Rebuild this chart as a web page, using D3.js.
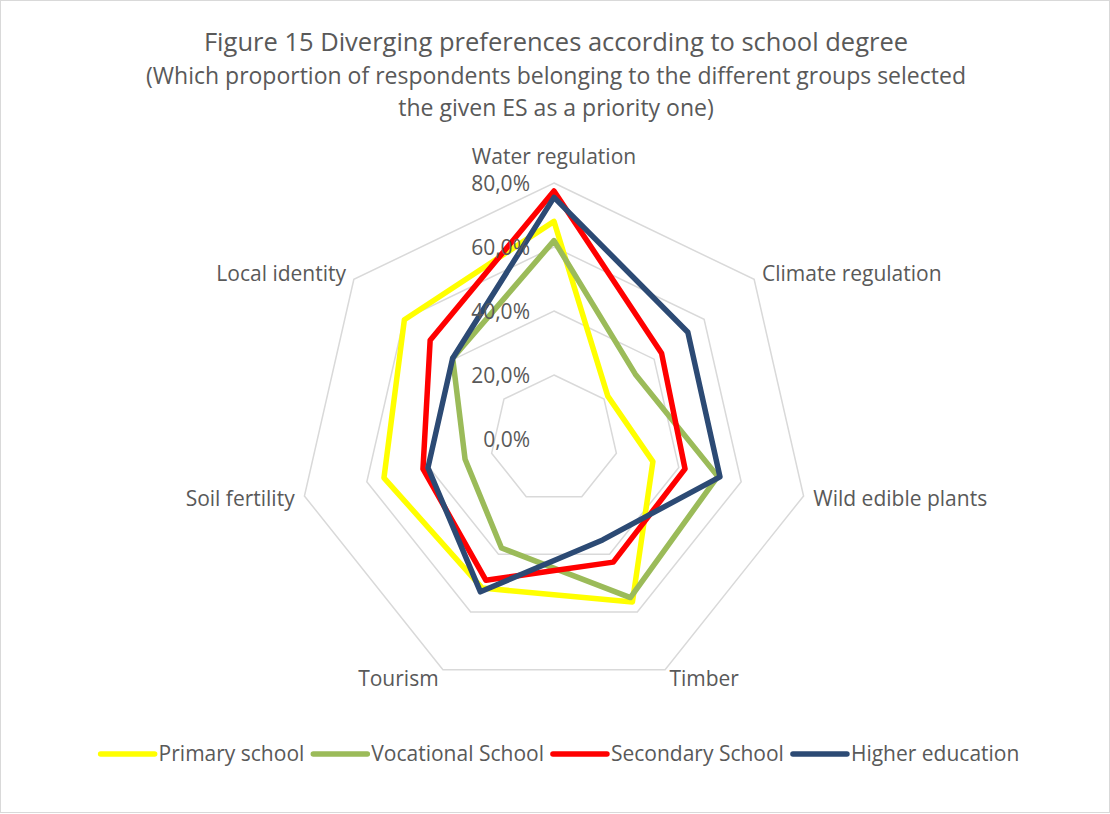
<!DOCTYPE html>
<html>
<head>
<meta charset="utf-8">
<script src="https://cdn.jsdelivr.net/npm/d3@7"></script>
<style>
  body { margin: 0; background: #fff; }
  text { font-family: "Open Sans", sans-serif; fill: #595959; }
</style>
</head>
<body>
<div id="chart"></div>
<script>
// ---- data ----
const axes = ["Water regulation", "Climate regulation", "Wild edible plants", "Timber",
              "Tourism", "Soil fertility", "Local identity"];
const seriesNames = ["Primary school", "Vocational School", "Secondary School", "Higher education"];
const primary    = [0.68, 0.215, 0.317, 0.565, 0.517, 0.545, 0.598];
const vocational = [0.62, 0.325, 0.525, 0.55, 0.378, 0.285, 0.405];
const secondary  = [0.775, 0.43, 0.42, 0.427, 0.49, 0.42, 0.495];
const higher     = [0.755, 0.535, 0.532, 0.35, 0.53, 0.404, 0.405];
const ticks = [0, 0.2, 0.4, 0.6, 0.8];
const colors = ["#FFFF00", "#9BBB59", "#FF0000", "#2C4A74"];

const W = 1110, H = 814;
const cx = 554, cy = 439, R = 256;

const svg = d3.select("#chart").append("svg")
    .attr("width", W).attr("height", H);

svg.append("rect")
    .attr("x", 0.5).attr("y", 0.5)
    .attr("width", W - 1).attr("height", H - 2)
    .attr("fill", "#fff").attr("stroke", "#D9D9D9");

// =========================
// TITLE
// =========================
const titleLines = [
  ["Figure 15 Diverging preferences according to school degree", 44, 25.5],
  ["(Which proportion of respondents belonging to the different groups selected", 78, 23],
  ["the given ES as a priority one)", 110, 23]
];
titleLines.forEach(([t, y, fs]) => {
  svg.append("text")
    .attr("x", 556).attr("y", y)
    .attr("text-anchor", "middle")
    .attr("dominant-baseline", "middle")
    .style("font-size", fs + "px")
    .text(t);
});

// =========================
// SCALES
// =========================
const r = d3.scaleLinear().domain([0, 0.8]).range([0, R]);
const angle = d3.scaleLinear().domain([0, axes.length]).range([0, 2 * Math.PI]);

const g = svg.append("g").attr("transform", `translate(${cx},${cy})`);

// grid rings
ticks.slice(1).forEach(t => {
  const pts = axes.map((_, i) => [angle(i), r(t)]);
  g.append("path")
    .attr("d", d3.lineRadial().curve(d3.curveLinearClosed)(pts))
    .attr("fill", "none")
    .attr("stroke", "#D9D9D9")
    .attr("stroke-width", 1.5);
});

// =========================
// SERIES
// =========================
const allSeries = [primary, vocational, secondary, higher];
const line = d3.lineRadial()
  .angle((d, i) => angle(i))
  .radius(d => r(d))
  .curve(d3.curveLinearClosed);

allSeries.forEach((vals, k) => {
  g.append("path")
    .attr("d", line(vals))
    .attr("fill", "none")
    .attr("stroke", colors[k])
    .attr("stroke-width", 5.5)
    .attr("stroke-linejoin", "round");
});

// tick labels
const fmt = d3.format(".1%");
ticks.forEach(t => {
  g.append("text")
    .attr("x", -24).attr("y", -r(t) + 2)
    .attr("text-anchor", "end")
    .attr("dominant-baseline", "middle")
    .style("font-size", "21px")
    .text(fmt(t).replace(".", ","));
});

// category labels
axes.forEach((a, i) => {
  const ang = angle(i);
  const ux = Math.sin(ang), uy = -Math.cos(ang);
  let off = 10;
  if (i === 0) off = 27;
  const x = ux * (R + off), y = uy * (R + off) + 2;
  g.append("text")
    .attr("x", x).attr("y", y)
    .attr("text-anchor", Math.abs(x) < 1 ? "middle" : (x > 0 ? "start" : "end"))
    .attr("dominant-baseline", "middle")
    .style("font-size", "21px")
    .text(a);
});

// =========================
// LEGEND
// =========================
const legend = svg.append("g");
const items = seriesNames.map((name, k) => {
  const it = legend.append("g");
  it.append("line")
    .attr("x1", 0).attr("x2", 54)
    .attr("stroke", colors[k]).attr("stroke-width", 5.5)
    .attr("stroke-linecap", "round");
  const tx = it.append("text")
    .attr("x", 58).attr("y", 1)
    .attr("dominant-baseline", "middle")
    .style("font-size", "21px")
    .text(name);
  return { it, w: 58 + tx.node().getComputedTextLength() };
});
const gap = 9;
const total = d3.sum(items, d => d.w) + gap * (items.length - 1);
let lx = 560 - total / 2;
items.forEach(d => {
  d.it.attr("transform", `translate(${lx},754)`);
  lx += d.w + gap;
});
</script>
</body>
</html>
